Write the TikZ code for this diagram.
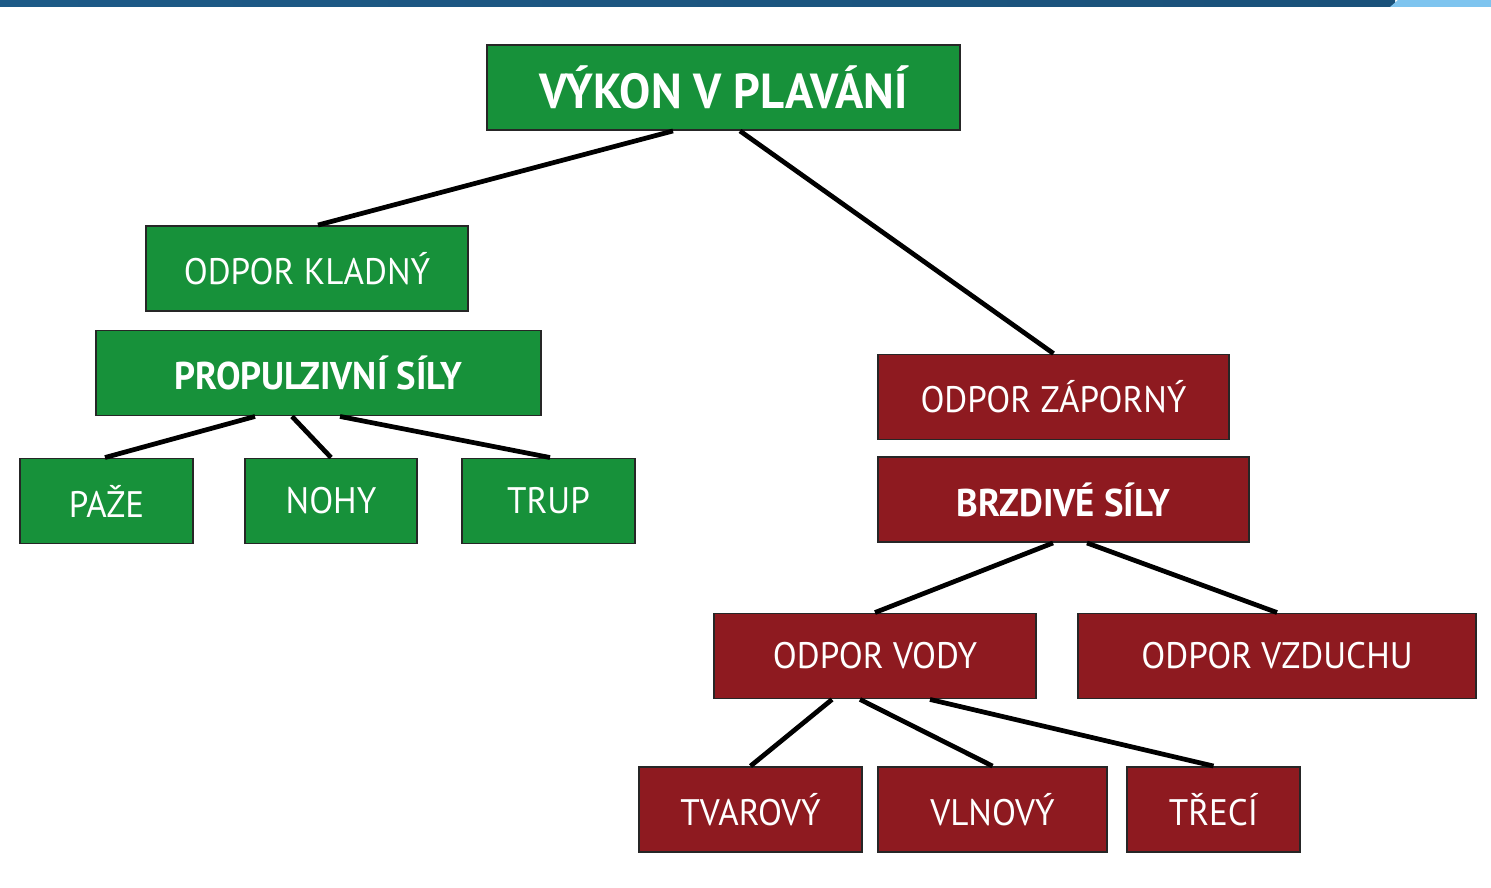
\documentclass[tikz,border=0pt]{standalone}
\usepackage{fontspec}
\setmainfont[FakeStretch=0.95]{PT Sans}
\usetikzlibrary{calc}

\definecolor{boxgreen}{HTML}{17913A}
\definecolor{boxred}{HTML}{8E1A20}
\definecolor{barblue}{HTML}{1D5A87}
\definecolor{barteal}{HTML}{2F88A8}
\definecolor{barlight}{HTML}{7EC4EF}

\tikzset{
  greenbox/.style={draw=black!85, line width=1.1pt, fill=boxgreen, text=white, inner sep=0pt, minimum height=1.7cm},
  redbox/.style={draw=black!85, line width=1.1pt, fill=boxred, text=white, inner sep=0pt, minimum height=1.7cm},
  bigtext/.style={font=\fontsize{28}{30}\selectfont\bfseries},
  boldtext/.style={font=\fontsize{22}{24}\selectfont\bfseries},
  plaintext/.style={font=\fontsize{21}{23}\selectfont},
  link/.style={line width=2.7pt, black}
}

\begin{document}
\begin{tikzpicture}[x=0.02cm, y=-0.02cm]
            \useasboundingbox (0,0) rectangle (1491,888);
            \fill [white] (0,0) rectangle (1491,888);
            % top bar
            \shade [left color=barblue, middle color=barteal, right color=barblue!90!black] (0,0) rectangle (1395,7);
            \fill [barlight] (1398,0) -- (1491,0) -- (1491,7) -- (1390,7) -- cycle;

            % green branch
            \node [greenbox, bigtext, minimum width=9.46cm] (vykon) at (723.5,87.5) {VÝKON V PLAVÁNÍ};
            \node [greenbox, plaintext, minimum width=6.44cm] (kladny) at (307,268.5) {ODPOR KLADNÝ};
            \node [greenbox, boldtext, minimum width=8.9cm] (propulz) at (318.5,373) {PROPULZIVNÍ SÍLY};
            \node [greenbox, plaintext, minimum width=3.46cm] (paze) at (106.5,501) {PAŽE};
            \node [greenbox, plaintext, minimum width=3.44cm] (nohy) at (331,501) {NOHY};
            \node [greenbox, plaintext, minimum width=3.46cm] (trup) at (548.5,501) {TRUP};

            % red branch
            \node [redbox, plaintext, minimum width=7.02cm] (zaporny) at (1053.5,397) {ODPOR ZÁPORNÝ};
            \node [redbox, boldtext, minimum width=7.42cm] (brzdive) at (1063.5,499.5) {BRZDIVÉ SÍLY};
            \node [redbox, plaintext, minimum width=6.44cm] (vody) at (875,656) {ODPOR VODY};
            \node [redbox, plaintext, minimum width=7.96cm] (vzduchu) at (1277,656) {ODPOR VZDUCHU};
            \node [redbox, plaintext, minimum width=4.46cm] (tvarovy) at (750.5,809.5) {TVAROVÝ};
            \node [redbox, plaintext, minimum width=4.58cm] (vlnovy) at (992.5,809.5) {VLNOVÝ};
            \node [redbox, plaintext, minimum width=3.46cm] (treci) at (1213.5,809.5) {TŘECÍ};

            % connectors
            \draw [link] ($(vykon.south)+(-50.5,0)$) -- ($(kladny.north)+(11,0)$);
            \draw [link] ($(vykon.south)+(16.5,0)$) -- (zaporny.north);
            \draw [link] ($(propulz.south)+(-63.5,0)$) -- ($(paze.north)+(-1.5,0)$);
            \draw [link] ($(propulz.south)+(-26.5,0)$) -- (nohy.north);
            \draw [link] ($(propulz.south)+(21.5,0)$) -- ($(trup.north)+(1.5,0)$);
            \draw [link] ($(brzdive.south)+(-10.5,0)$) -- (vody.north);
            \draw [link] ($(brzdive.south)+(23.5,0)$) -- (vzduchu.north);
            \draw [link] ($(vody.south)+(-43,0)$) -- (tvarovy.north);
            \draw [link] ($(vody.south)+(-15,0)$) -- (vlnovy.north);
            \draw [link] ($(vody.south)+(55,0)$) -- (treci.north);
        \end{tikzpicture}
\end{document}
